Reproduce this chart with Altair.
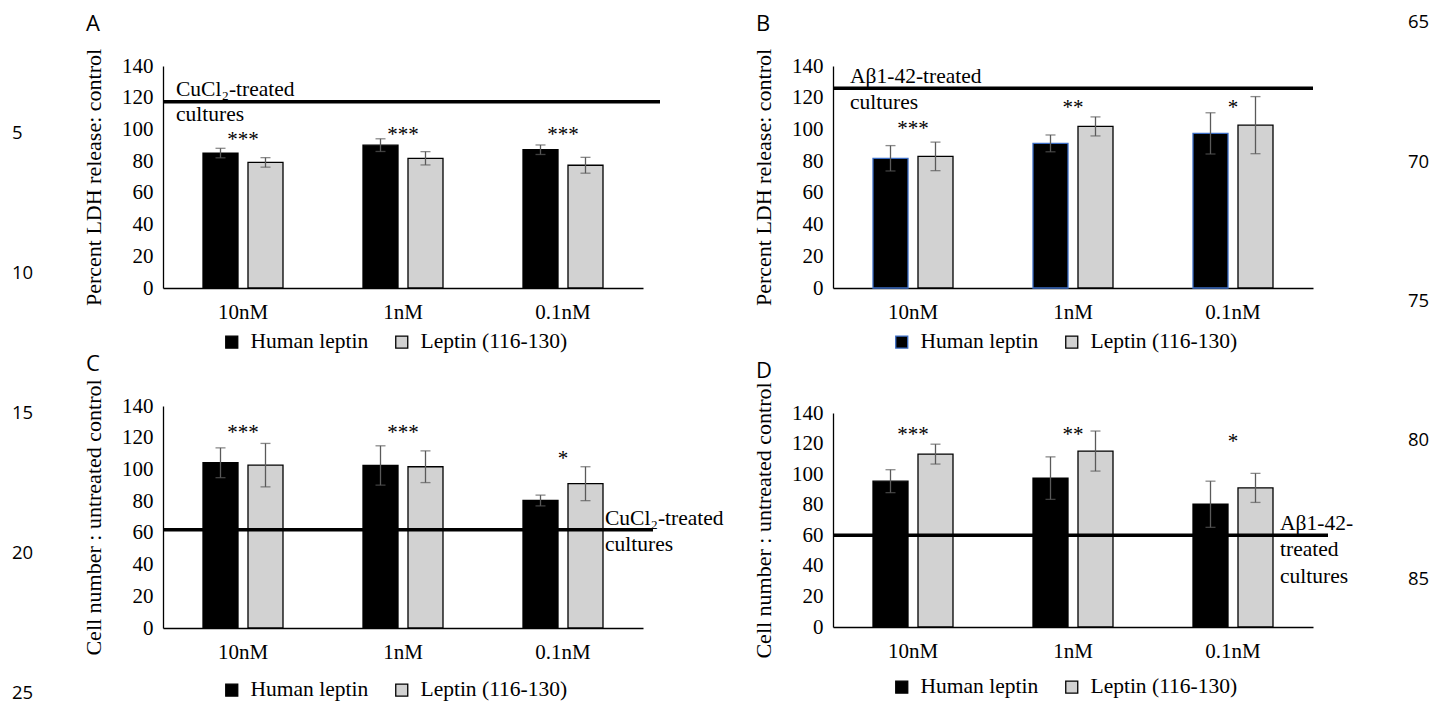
import altair as alt
import pandas as pd

SERIF = "Liberation Serif"
SANS = "Open Sans"
W = 480

cats = ["10nM", "1nM", "0.1nM"]
series = ["Human leptin", "Leptin (116-130)"]
y_ticks = [0, 20, 40, 60, 80, 100, 120, 140]
left_line_numbers = ["5", "10", "15", "20", "25"]
right_line_numbers = ["65", "70", "75", "80", "85"]

# Panel A: LDH release, CuCl2
a_human = [85.1, 90.1, 87.2]
a_human_err = [3.0, 4.0, 3.0]
a_leptin = [79.2, 81.8, 77.4]
a_leptin_err = [3.0, 4.2, 5.0]
a_stars = ["***", "***", "***"]
a_star_y = [96.0, 99.0, 99.0]
a_line = 117.5

# Panel B: LDH release, Abeta1-42
b_human = [81.8, 91.2, 97.5]
b_human_err = [8.0, 5.3, 13.0]
b_leptin = [83.0, 101.9, 102.7]
b_leptin_err = [9.0, 6.0, 18.0]
b_stars = ["***", "**", "*"]
b_star_y = [102.7, 116.0, 116.0]
b_line = 126.0

# Panel C: cell number, CuCl2
c_human = [104.2, 102.5, 80.4]
c_human_err = [9.4, 12.4, 3.4]
c_leptin = [102.7, 101.7, 91.0]
c_leptin_err = [13.7, 10.0, 10.7]
c_stars = ["***", "***", "*"]
c_star_y = [125.7, 125.7, 108.8]
c_line = 62.0

# Panel D: cell number, Abeta1-42
d_human = [95.4, 97.4, 80.3]
d_human_err = [7.5, 13.9, 15.1]
d_leptin = [113.1, 115.1, 91.0]
d_leptin_err = [6.5, 13.1, 9.5]
d_stars = ["***", "**", "*"]
d_star_y = [128.4, 128.4, 123.6]
d_line = 60.0

one = pd.DataFrame({"k": [0]})


def panel(letter, ytitle, human, herr, leptin, lerr, stars, star_y, line_val,
          ann_lines, ann_x, ann_dys, height, line_ext, human_stroke, legend_y,
          nums, num_x, num_ys):
    rows = []
    for i, c in enumerate(cats):
        rows.append(dict(conc=c, series=series[0], value=human[i],
                         lo=human[i] - herr[i], hi=human[i] + herr[i]))
        rows.append(dict(conc=c, series=series[1], value=leptin[i],
                         lo=leptin[i] - lerr[i], hi=leptin[i] + lerr[i]))
    df = pd.DataFrame(rows)
    sdf = pd.DataFrame({"conc": cats, "stars": stars, "pos": star_y})
    ldf = pd.DataFrame({"v": [line_val]})

    yscale = alt.Scale(domain=[0, 140], nice=False, zero=True)
    xscale = alt.Scale(paddingInner=0, paddingOuter=0)
    oscale = alt.Scale(paddingInner=0.222, paddingOuter=0.889)
    xaxis = alt.Axis(title=None, labelAngle=0, ticks=False, tickSize=0, grid=False,
                     domainColor="black", domainWidth=1.3, labelFont=SERIF,
                     labelFontSize=21, labelColor="black", labelPadding=13)
    yaxis = alt.Axis(title=ytitle, values=y_ticks, ticks=False, tickSize=0, grid=False,
                     domainColor="black", domainWidth=1.3, labelFont=SERIF,
                     labelFontSize=21, labelColor="black", labelPadding=10,
                     titleFont=SERIF, titleFontSize=22, titleFontWeight="normal",
                     titleColor="black", titlePadding=16)
    legend = alt.Legend(title=None, orient="none", legendX=58, legendY=legend_y,
                        direction="horizontal", symbolType="square", symbolSize=144,
                        symbolStrokeWidth=1.3, labelFont=SERIF, labelFontSize=21.5,
                        labelColor="black", labelOffset=8, columnPadding=22, padding=0)

    def X():
        return alt.X("conc:N", sort=cats, scale=xscale, axis=xaxis)

    def XO():
        return alt.XOffset("series:N", sort=series, scale=oscale)

    def Y(field):
        return alt.Y(field, scale=yscale, axis=yaxis)

    bars = alt.Chart(df).mark_bar(strokeWidth=1.3).encode(
        x=X(), xOffset=XO(), y=Y("value:Q"),
        fill=alt.Fill("series:N", scale=alt.Scale(domain=series, range=["#000000", "#d2d2d2"]),
                      legend=legend),
        stroke=alt.Stroke("series:N", scale=alt.Scale(domain=series, range=[human_stroke, "#000000"]),
                          legend=legend),
    )
    err = alt.Chart(df).mark_rule(color="#5a5a5a", strokeWidth=1.3).encode(
        x=X(), xOffset=XO(), y=Y("lo:Q"), y2="hi:Q")
    cap_lo = alt.Chart(df).mark_tick(color="#5a5a5a", thickness=1.3, size=10).encode(
        x=X(), xOffset=XO(), y=Y("lo:Q"))
    cap_hi = alt.Chart(df).mark_tick(color="#5a5a5a", thickness=1.3, size=10).encode(
        x=X(), xOffset=XO(), y=Y("hi:Q"))
    st = alt.Chart(sdf).mark_text(font=SERIF, fontSize=21, color="black",
                                  baseline="alphabetic", dy=10).encode(
        x=X(), y=Y("pos:Q"), text="stars:N")
    rule = alt.Chart(ldf).mark_rule(color="black", strokeWidth=3.6).encode(
        y=Y("v:Q"), x=alt.value(0), x2=alt.value(W + line_ext))
    anns = [
        alt.Chart(ldf).mark_text(font=SERIF, fontSize=21.5, color="black", align="left",
                                 baseline="alphabetic", dy=d).encode(
            y=Y("v:Q"), x=alt.value(ann_x), text=alt.value(t))
        for t, d in zip(ann_lines, ann_dys)
    ]
    let = alt.Chart(one).mark_text(font=SANS, fontSize=22, color="black", align="left",
                                   baseline="alphabetic").encode(
        x=alt.value(-77), y=alt.value(-35), text=alt.value(letter))
    numl = [
        alt.Chart(one).mark_text(font=SANS, fontSize=18.5, color="black", align="left",
                                 baseline="middle").encode(
            x=alt.value(num_x), y=alt.value(yy), text=alt.value(n))
        for n, yy in zip(nums, num_ys)
    ]
    return alt.layer(bars, err, cap_lo, cap_hi, st, rule, *anns, let, *numl).properties(
        width=W, height=height)


A = panel("A", "Percent LDH release: control", a_human, a_human_err, a_leptin, a_leptin_err,
          a_stars, a_star_y, a_line, ["CuCl\u2082-treated", "cultures"], 13, [-6, 19],
          222, 17, "#000000", 265, left_line_numbers[:2], -151, [67, 207])
B = panel("B", "Percent LDH release: control", b_human, b_human_err, b_leptin, b_leptin_err,
          b_stars, b_star_y, b_line, ["A\u03b21-42-treated", "cultures"], 17, [-5, 21],
          222, 0, "#3b6cc4", 265, right_line_numbers[:3], 575, [-44, 95.5, 234.5])
C = panel("C", "Cell number : untreated control", c_human, c_human_err, c_leptin, c_leptin_err,
          c_stars, c_star_y, c_line, ["CuCl\u2082-treated", "cultures"], 442, [-5, 21.3],
          222, 10, "#000000", 273, left_line_numbers[2:], -151, [7, 147, 287])
D = panel("D", "Cell number : untreated control", d_human, d_human_err, d_leptin, d_leptin_err,
          d_stars, d_star_y, d_line, ["A\u03b21-42-", "treated", "cultures"], 447, [-5.6, 20.7, 47.7],
          214, 15, "#000000", 263, right_line_numbers[3:], 575, [27, 166])


def indep(ch):
    return ch.resolve_scale(fill="independent", stroke="independent").resolve_legend(
        fill="independent", stroke="independent")


left = indep(alt.vconcat(A, C, spacing=118, bounds="flush"))
right = indep(alt.vconcat(B, D, spacing=125, bounds="flush"))
chart = indep(alt.hconcat(left, right, spacing=28)).properties(
    padding={"left": 4, "top": 5, "right": 0, "bottom": 0}
).configure_view(stroke=None)

chart.save("out.html", embed_options={"renderer": "svg", "actions": False})
